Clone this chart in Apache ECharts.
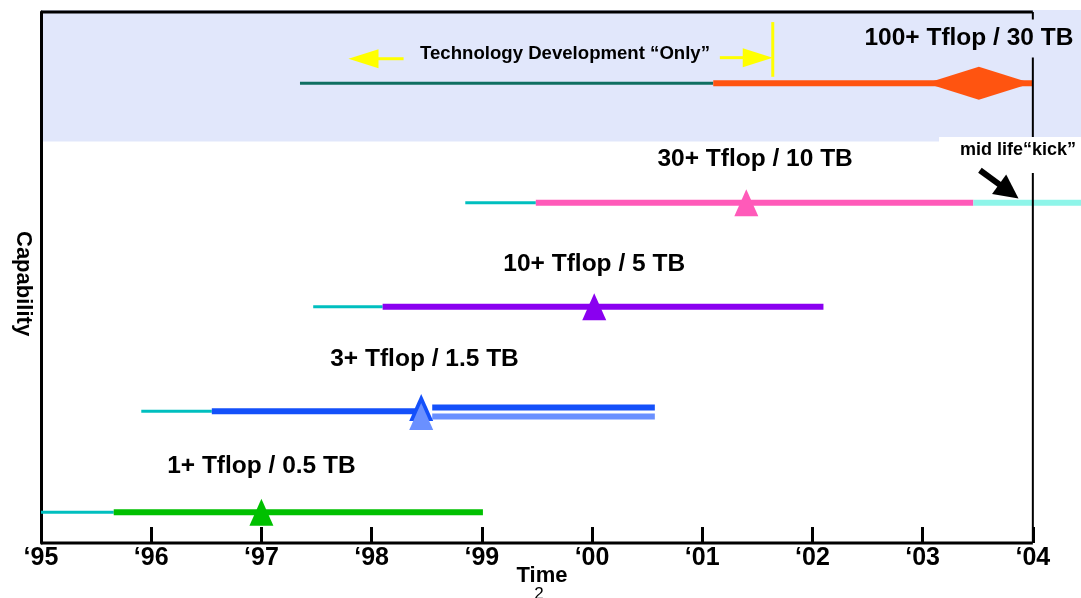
<!DOCTYPE html>
<html>
<head>
<meta charset="utf-8">
<script src="https://cdn.jsdelivr.net/npm/echarts@6/dist/echarts.min.js"></script>
<style>
  html, body { margin: 0; padding: 0; background: #ffffff; }
  #chart { width: 1081px; height: 598px; }
</style>
</head>
<body>
<div id="chart"></div>
<script>
// ---- time axis ----
const yearTicks = [1995, 1996, 1997, 1998, 1999, 2000, 2001, 2002, 2003, 2004];
const yearLabels = ['‘95', '‘96', '‘97', '‘98', '‘99', '‘00', '‘01', '‘02', '‘03', '‘04'];

// ---- one row per system generation ----
const systems = ['1+ Tflop / 0.5 TB', '3+ Tflop / 1.5 TB', '10+ Tflop / 5 TB', '30+ Tflop / 10 TB', '100+ Tflop / 30 TB'];
const capability = [5.8, 24.8, 44.5, 64.1, 86.6];
const leadStart  = [1995.00, 1995.91, 1997.47, 1998.85, 1997.35];
const buildStart = [1995.66, 1996.55, 1998.10, 1999.49, 2001.10];
const serviceEnd = [1999.01, 2000.57, 2002.10, 2003.46, 2004.00];
const milestone  = [1997.00, 1998.45, 2000.02, 2001.40, 2003.51];

// second system splits into two machines after its delivery
const branchStart = 1998.55;
const branchLevel = [25.5, 23.8];
// mid-life upgrade of the fourth system
const kickStart = 2003.46;
const kickEnd = 2004.44;
// technology-development-only window of the fifth system
const devWindow = [1997.79, 2001.64];

// ---- styling ----
const FONT = "'Liberation Sans', Arial, Helvetica, sans-serif";
const X_MAX = 2004.437;
const BAND_FLOOR = 75.6;
const leadColor = ['#00bfbf', '#00bfbf', '#00bfbf', '#00bfbf', '#0f6f61'];
const mainColor = ['#00c000', '#1450fa', '#8a00f0', '#ff5ab9', '#ff5410'];
const branchColor = ['#1450fa', '#6a90ff'];
const kickColor = '#8ef5e9';

const series = [];

// shaded band of the technology development era
series.push({
  type: 'custom', z: 0, silent: true,
  data: [[yearTicks[0], 100, X_MAX, BAND_FLOOR]],
  renderItem: (params, api) => {
    const a = api.coord([api.value(0), api.value(1)]);
    const b = api.coord([api.value(2), api.value(3)]);
    return { type: 'rect', shape: { x: a[0], y: a[1] - 2, width: b[0] - a[0] + 2, height: b[1] - a[1] + 2 },
             style: { fill: '#e1e7fb' } };
  }
});

function segment(x0, x1, y, color, width, z) {
  return {
    type: 'line', z: z || 2, silent: true, symbol: 'none', animation: false,
    data: [[x0, y], [x1, y]],
    lineStyle: { color: color, width: width, cap: 'butt', opacity: 1 }
  };
}

systems.forEach((name, i) => {
  series.push(segment(leadStart[i], buildStart[i], capability[i], leadColor[i], 3));
  if (i === 1) {
    series.push(segment(buildStart[i], milestone[i], capability[i], mainColor[i], 6));
    series.push(segment(branchStart, serviceEnd[i], branchLevel[0], branchColor[0], 6));
    series.push(segment(branchStart, serviceEnd[i], branchLevel[1], branchColor[1], 6));
  } else {
    series.push(segment(buildStart[i], serviceEnd[i], capability[i], mainColor[i], 6));
  }
});
series.push(segment(kickStart, kickEnd, capability[3], kickColor, 6));

// delivery milestones
const triangles = [];
systems.forEach((name, i) => {
  if (i === 4) return;
  if (i === 1) {
    triangles.push({ value: [milestone[i], branchLevel[0]], itemStyle: { color: branchColor[0] } });
    triangles.push({ value: [milestone[i], branchLevel[1]], itemStyle: { color: branchColor[1] } });
  } else {
    triangles.push({ value: [milestone[i], capability[i]], itemStyle: { color: mainColor[i] } });
  }
});
series.push({
  type: 'scatter', z: 4, silent: true, symbol: 'triangle', symbolSize: [24, 27],
  itemStyle: { opacity: 1 },
  data: triangles
});
series.push({
  type: 'scatter', z: 4, silent: true, symbol: 'diamond', symbolSize: [105, 33],
  itemStyle: { color: mainColor[4], opacity: 1 },
  data: [[milestone[4], capability[4]]]
});

// frame: top edge, closing edge at the last year, time axis line
const frame = [
  [yearTicks[0], 100, 2004, 100, 3],
  [2004, 0, 2004, 100, 2],
  [yearTicks[0], 0, 2004, 0, 3]
];
series.push({
  type: 'custom', z: 5, silent: true, data: frame,
  renderItem: (params, api) => {
    const a = api.coord([api.value(0), api.value(1)]);
    const b = api.coord([api.value(2), api.value(3)]);
    return { type: 'line', shape: { x1: a[0], y1: a[1], x2: b[0], y2: b[1] },
             style: { stroke: '#000', lineWidth: api.value(4) } };
  }
});

// arrows: [fromX, fromY, toX, toY, shaftWidth, headLength, headWidth, colorIndex]
const arrowColors = ['#ffff00', '#000000'];
const arrows = [
  [1998.29, 91.2, devWindow[0], 91.2, 3, 30, 19, 0],
  [2001.16, 91.4, devWindow[1], 91.4, 3, 30, 19, 0],
  [devWindow[1], 87.8, devWindow[1], 98.1, 3, 0, 0, 0],
  [2003.52, 70.2, 2003.87, 64.9, 6, 24, 24, 1]
];
series.push({
  type: 'custom', z: 8, silent: true, data: arrows,
  renderItem: (params, api) => {
    const a = api.coord([api.value(0), api.value(1)]);
    const b = api.coord([api.value(2), api.value(3)]);
    const w = api.value(4), hl = api.value(5), hw = api.value(6);
    const color = arrowColors[api.value(7)];
    const dx = b[0] - a[0], dy = b[1] - a[1];
    const len = Math.sqrt(dx * dx + dy * dy);
    const ux = dx / len, uy = dy / len;
    const bx = b[0] - ux * hl, by = b[1] - uy * hl;
    const children = [{
      type: 'line', shape: { x1: a[0], y1: a[1], x2: hl ? bx + ux : b[0], y2: hl ? by + uy : b[1] },
      style: { stroke: color, lineWidth: w }
    }];
    if (hl) {
      children.push({
        type: 'polygon',
        shape: { points: [[b[0], b[1]], [bx - uy * hw / 2, by + ux * hw / 2], [bx + uy * hw / 2, by - ux * hw / 2]] },
        style: { fill: color }
      });
    }
    return { type: 'group', children: children };
  }
});

// text annotations
const rowLabelAnchor = [[1997.0, 14.5], [1998.48, 34.6], [2000.02, 52.5], [2001.48, 72.2], [2003.42, 95.0]];
const labelData = systems.map((s, i) => ({ value: rowLabelAnchor[i], name: s }));
labelData[4].label = { backgroundColor: '#e1e7fb', padding: [0, 4, 13, 4] };
labelData.push({
  value: [1999.755, 92.1], name: 'Technology Development “Only”',
  label: { fontSize: 18.6 }
});
labelData.push({
  value: [2003.149, 76.46], name: 'mid life“kick”',
  label: { fontSize: 18, align: 'left', verticalAlign: 'top', backgroundColor: '#ffffff', padding: [4, 20, 14, 21] }
});
series.push({
  type: 'scatter', z: 7, silent: true, symbolSize: 0,
  itemStyle: { color: 'rgba(0,0,0,0)', opacity: 1 },
  data: labelData,
  label: {
    show: true, position: 'inside', formatter: p => p.name, opacity: 1,
    color: '#000000', fontFamily: FONT, fontWeight: 'bold', fontSize: 24.5
  }
});

const option = {
  animation: false,
  backgroundColor: '#ffffff',
  grid: { left: 41, right: 0, top: 12, bottom: 55, containLabel: false, outerBoundsMode: 'none' },
  xAxis: {
    type: 'value', min: yearTicks[0], max: X_MAX, interval: 1,
    splitLine: { show: false },
    axisLine: { show: false },
    axisTick: { show: true, inside: true, length: 16, customValues: yearTicks,
                lineStyle: { color: '#000', width: 3 } },
    axisLabel: {
      customValues: yearTicks,
      formatter: v => yearLabels[yearTicks.indexOf(Math.round(v))],
      color: '#000', fontFamily: FONT, fontWeight: 'bold', fontSize: 25, margin: 3
    }
  },
  yAxis: {
    type: 'value', min: 0, max: 100,
    splitLine: { show: false },
    axisTick: { show: false },
    axisLabel: { show: false },
    axisLine: { show: true, lineStyle: { color: '#000', width: 3 } }
  },
  graphic: [
    { type: 'text', left: 12, top: 231, rotation: -Math.PI / 2, originX: 0, originY: 0,
      style: { text: 'Capability', font: 'bold 22px ' + FONT, fill: '#000' }, silent: true, z: 10 },
    { type: 'text', x: 542, y: 576,
      style: { text: 'Time', font: 'bold 22px ' + FONT, fill: '#000', align: 'center', verticalAlign: 'middle' }, silent: true },
    { type: 'text', x: 539, y: 586,
      style: { text: '2', font: '17px ' + FONT, fill: '#000', align: 'center', verticalAlign: 'top' }, silent: true }
  ],
  series: series
};

const chart = echarts.init(document.getElementById('chart'));
chart.setOption(option);
</script>
</body>
</html>
